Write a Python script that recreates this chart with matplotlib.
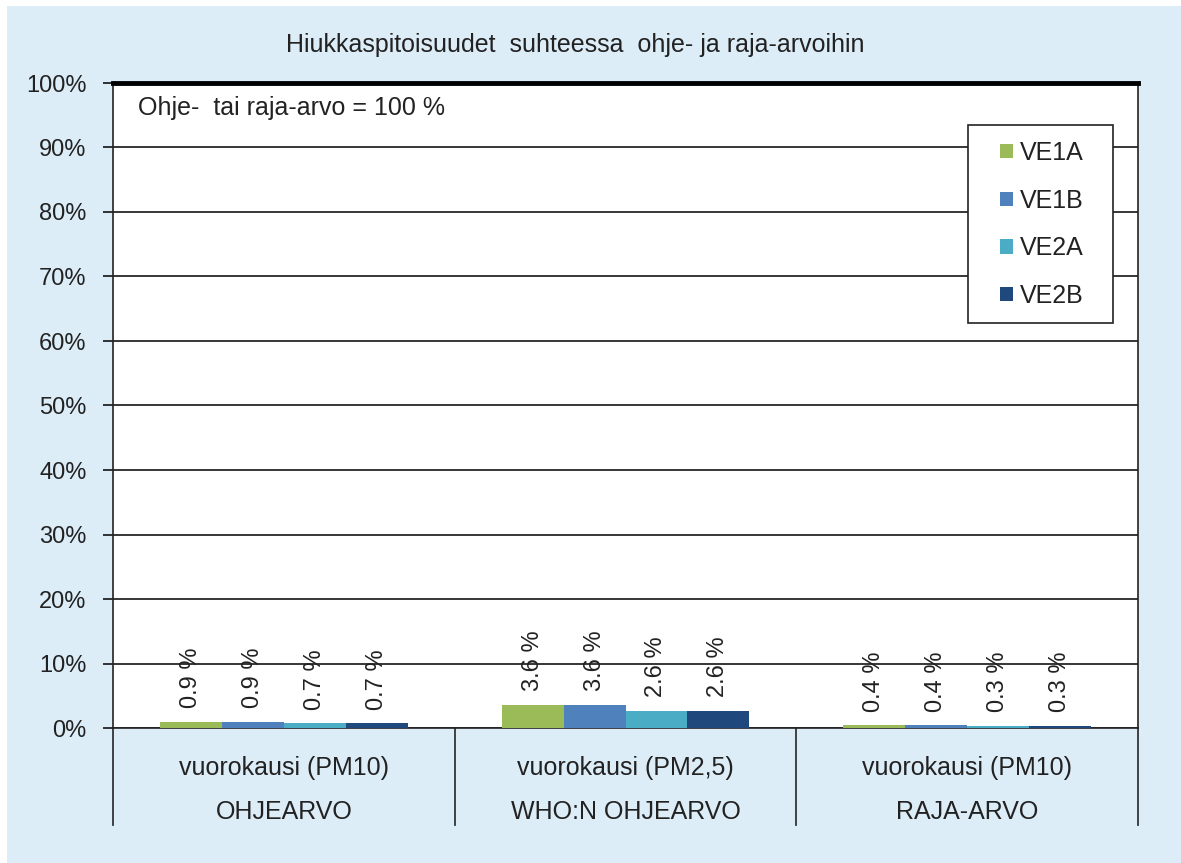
import numpy as np
import matplotlib
matplotlib.use("Agg")
import matplotlib.pyplot as plt
from matplotlib.patches import Rectangle
import matplotlib.transforms as mtransforms

plt.rcParams['font.family'] = ['Liberation Sans', 'DejaVu Sans']

# data (percent of guideline / limit value)
periods = ['vuorokausi (PM10)', 'vuorokausi (PM2,5)', 'vuorokausi (PM10)']
groups = ['OHJEARVO', 'WHO:N OHJEARVO', 'RAJA-ARVO']
series = ['VE1A', 'VE1B', 'VE2A', 'VE2B']
VE1A = [0.9, 3.6, 0.4]
VE1B = [0.9, 3.6, 0.4]
VE2A = [0.7, 2.6, 0.3]
VE2B = [0.7, 2.6, 0.3]
colors = ['#9bbb59', '#4f81bd', '#4bacc6', '#1f497d']

txt = '#222222'
bg = '#ddedf8'
fig = plt.figure(figsize=(11.81, 8.63), dpi=100)
fig.patch.set_facecolor('white')
fig.patches.append(Rectangle((7 / 1181, 0), 1, 1 - 6 / 863, transform=fig.transFigure,
                             facecolor=bg, edgecolor='none', zorder=-10))

ax = fig.add_axes([113 / 1181, 1 - 728 / 863, 1025 / 1181, 645 / 863])
ax.set_facecolor('white')

x = np.arange(len(groups))
w = 0.181
allvals = [VE1A, VE1B, VE2A, VE2B]
for i, (name, vals) in enumerate(zip(series, allvals)):
    pos = x + (i - 1.5) * w
    ax.bar(pos, vals, width=w, color=colors[i], label=name, zorder=3)
    for p, v in zip(pos, vals):
        ax.annotate('%.1f %%' % v, (p, v), xytext=(0, 10), textcoords='offset points',
                    rotation=90, ha='center', va='bottom', fontsize=17, color=txt,
                    zorder=4)

ax.set_xlim(-0.5, 2.5)
ax.set_ylim(0, 100)
ax.set_yticks(np.arange(0, 101, 10))
ax.set_yticklabels(['%d%%' % t for t in range(0, 101, 10)], fontsize=17, color=txt)
ax.yaxis.grid(True, color='black', linewidth=1.1, zorder=0)
ax.tick_params(axis='y', length=7, width=1.1, color='black', pad=12)
ax.set_xticks([])

for s in ['left', 'bottom', 'right']:
    ax.spines[s].set_color(txt)
    ax.spines[s].set_linewidth(1.2)
ax.spines['top'].set_linewidth(3.5)
ax.spines['top'].set_color('black')

# two-level category axis
trans = mtransforms.blended_transform_factory(ax.transData, ax.transAxes)
for k in range(4):
    ax.plot([k - 0.5, k - 0.5], [0, -0.15], transform=trans, color='#333333',
            linewidth=1.3, clip_on=False)
for k in range(3):
    ax.text(k, -0.062, periods[k], transform=trans, ha='center', va='center',
            fontsize=18, color=txt)
    ax.text(k, -0.130, groups[k], transform=trans, ha='center', va='center',
            fontsize=18, color=txt)

ax.text(0.0244, 0.961, 'Ohje-  tai raja-arvo = 100 %', transform=ax.transAxes,
        ha='left', va='center', fontsize=18, color=txt)

fig.text(575 / 1181, 1 - 45 / 863, 'Hiukkaspitoisuudet  suhteessa  ohje- ja raja-arvoihin',
         ha='center', va='center', fontsize=18, color=txt)

# legend box drawn by hand, entries placed inside it
ax.add_patch(Rectangle((0.834, 0.628), 0.1415, 0.307, transform=ax.transAxes,
                       facecolor='white', edgecolor=txt, linewidth=1.2, zorder=4))
leg = ax.legend(loc='center left', bbox_to_anchor=(0.8654, 0.7806), fontsize=18,
                frameon=False, handlelength=0.5, handleheight=0.5,
                handletextpad=0.3, labelspacing=0.95, borderpad=0, borderaxespad=0)
for t in leg.get_texts():
    t.set_color(txt)
leg.set_zorder(5)

fig.savefig('out.png', dpi=100, facecolor=fig.get_facecolor())
